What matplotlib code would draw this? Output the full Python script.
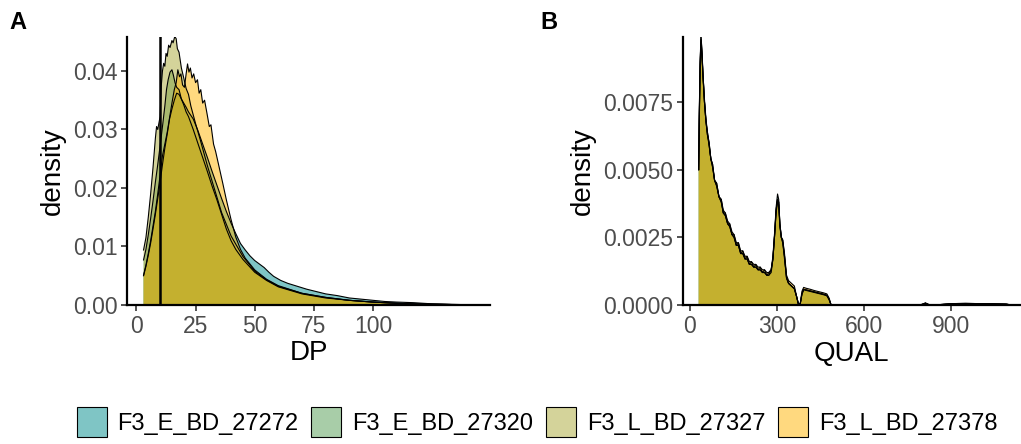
import numpy as np
import matplotlib
matplotlib.use("Agg")
import matplotlib.pyplot as plt
from matplotlib.patches import Patch
from matplotlib.colors import to_rgba

plt.rcParams['font.family'] = ['Liberation Sans', 'DejaVu Sans']

samples = ["F3_E_BD_27272", "F3_E_BD_27320", "F3_L_BD_27327", "F3_L_BD_27378"]
colors = ["#008D8D", "#539D53", "#ABA937", "#FFB500"]

# ---- panel A: DP densities
dp_teal_x = [3, 4, 5, 6, 7, 8, 9, 10, 11, 12, 13, 14, 15, 16, 17, 18, 19, 20, 21, 22, 24, 26, 28, 30,
             32, 34, 36, 38, 40, 42, 44, 46, 48, 50, 52, 54, 56, 58, 61, 64, 68, 72, 76, 80, 85, 90,
             95, 100, 105, 110, 117, 125, 135, 143]
dp_teal_y = [0.0050, 0.0066, 0.0085, 0.0106, 0.0130, 0.0155, 0.0182, 0.0210, 0.0240, 0.0268, 0.0292,
             0.0318, 0.0335, 0.0350, 0.0362, 0.0360, 0.0352, 0.0345, 0.0338, 0.0330, 0.0318, 0.0298,
             0.0275, 0.0252, 0.0228, 0.0205, 0.0182, 0.0160, 0.0140, 0.0122, 0.0105, 0.0094, 0.0084,
             0.0076, 0.0070, 0.0064, 0.0056, 0.0049, 0.0042, 0.0037, 0.0032, 0.0027, 0.0023, 0.0019,
             0.0016, 0.0012, 0.0010, 0.0008, 0.0006, 0.0005, 0.0004, 0.0002, 0.0001, 0.0]

dp_green_x = [3, 4, 5, 6, 7, 8, 9, 10, 11, 12, 12.7, 13.4, 14.2, 15, 15.6, 16.3, 17, 18, 19, 20, 21,
              22, 24, 26, 28, 30, 32, 34, 36, 38, 40, 42, 45, 50, 55, 60, 70, 80, 90, 100, 115, 130, 143]
dp_green_y = [0.0077, 0.0095, 0.0120, 0.0148, 0.0178, 0.0210, 0.0240, 0.0272, 0.0305, 0.0340, 0.0368,
              0.0385, 0.0398, 0.0402, 0.0393, 0.0380, 0.0372, 0.0368, 0.0352, 0.0342, 0.0330, 0.0322,
              0.0300, 0.0276, 0.0252, 0.0228, 0.0203, 0.0180, 0.0155, 0.0130, 0.0110, 0.0095, 0.0078,
              0.0056, 0.0042, 0.0031, 0.0019, 0.0012, 0.0008, 0.0005, 0.0002, 0.0001, 0.0]

dp_khaki_x = [3, 4, 5, 6, 7, 8, 8.5, 9, 10, 10.5, 11, 11.5, 12, 12.5, 13, 13.6, 14.2, 15, 15.5, 16.2,
              16.8, 17.3, 18, 19, 20, 21, 22, 23, 25, 27, 30, 33, 36, 40, 45, 50, 55, 60, 70, 80, 90,
              100, 115, 130, 143]
dp_khaki_y = [0.0094, 0.0115, 0.0150, 0.0190, 0.0235, 0.0285, 0.0305, 0.0300, 0.0322, 0.0375, 0.0400,
              0.0413, 0.0408, 0.0430, 0.0425, 0.0444, 0.0440, 0.0452, 0.0448, 0.0459, 0.0455, 0.0438,
              0.0432, 0.0405, 0.0388, 0.0370, 0.0360, 0.0340, 0.0310, 0.0282, 0.0238, 0.0198, 0.0158,
              0.0118, 0.0083, 0.0058, 0.0043, 0.0032, 0.0020, 0.0013, 0.0008, 0.0005, 0.0002, 0.0001, 0.0]

dp_yellow_x = [3, 4, 5, 6, 7, 8, 9, 10, 11, 12, 13, 14, 15, 16, 16.8, 17.5, 18.2, 18.8, 19.5, 20.3,
               21, 21.6, 22.2, 22.8, 23.5, 24.2, 25, 25.8, 26.5, 27.2, 28, 28.8, 29.8, 30.8, 31.5,
               32.6, 33.5, 35, 36.5, 38, 40, 42, 44, 46, 50, 55, 60, 70, 80, 90, 100, 115, 130, 143]
dp_yellow_y = [0.0051, 0.0068, 0.0088, 0.0110, 0.0135, 0.0160, 0.0190, 0.0222, 0.0255, 0.0275, 0.0295,
               0.0320, 0.0345, 0.0368, 0.0380, 0.0402, 0.0390, 0.0395, 0.0376, 0.0372, 0.0395, 0.0412,
               0.0398, 0.0405, 0.0388, 0.0395, 0.0380, 0.0385, 0.0362, 0.0368, 0.0345, 0.0350, 0.0328,
               0.0305, 0.0308, 0.0275, 0.0262, 0.0235, 0.0208, 0.0180, 0.0146, 0.0116, 0.0095, 0.0080,
               0.0060, 0.0044, 0.0033, 0.0020, 0.0013, 0.0008, 0.0005, 0.0002, 0.0001, 0.0]

# ---- panel B: QUAL densities
qual_x = [30, 32, 35, 38, 41, 45, 50, 55, 60, 66, 72, 78, 85, 92, 100, 108, 115, 122, 130, 137, 145,
          152, 160, 167, 175, 182, 190, 197, 205, 212, 220, 227, 235, 242, 250, 257, 265, 272, 280,
          286, 292, 297, 302, 306, 310, 315, 320, 326, 333, 340, 350, 360, 368, 374, 380, 386, 392,
          400, 415, 430, 445, 460, 472, 480, 486, 495, 600, 780, 800, 812, 822, 835, 870, 900, 950,
          1000, 1050, 1090, 1110]
qual_teal = [0.0050, 0.0068, 0.0088, 0.0099, 0.0094, 0.0085, 0.0075, 0.0068, 0.0064, 0.0060, 0.0054,
             0.0052, 0.0046, 0.0045, 0.0040, 0.0039, 0.0034, 0.0034, 0.0030, 0.0030, 0.0026, 0.0026,
             0.0022, 0.0023, 0.0019, 0.0020, 0.0017, 0.0018, 0.0015, 0.0016, 0.0014, 0.0015, 0.0013,
             0.0014, 0.0012, 0.0013, 0.0011, 0.0012, 0.0013, 0.0018, 0.0027, 0.0036, 0.0041, 0.0039,
             0.0030, 0.0025, 0.0024, 0.0018, 0.0010, 0.0008, 0.0007, 0.0006, 0.0003, 0.00003, 0.00003,
             0.0004, 0.00058, 0.00056, 0.00052, 0.00048, 0.00044, 0.0004, 0.00036, 0.0002, 0.00002,
             0.0, 0.0, 0.0, 0.00002, 0.00008, 0.00002, 0.0, 0.00002, 0.00005, 0.00006, 0.00005,
             0.00004, 0.00003, 0.0]
qual_green = [0.0050, 0.0069, 0.0089, 0.0098, 0.0093, 0.0084, 0.0075, 0.0068, 0.0063, 0.0059, 0.0054,
              0.0051, 0.0046, 0.0044, 0.0040, 0.0038, 0.0034, 0.0033, 0.0030, 0.0029, 0.0026, 0.0025,
              0.0022, 0.0022, 0.0019, 0.0019, 0.0017, 0.0017, 0.0015, 0.0015, 0.0014, 0.0014, 0.0013,
              0.0013, 0.0012, 0.0012, 0.0011, 0.0011, 0.0013, 0.0017, 0.0026, 0.0035, 0.0039, 0.0038,
              0.0030, 0.0025, 0.0023, 0.0018, 0.0010, 0.0008, 0.0007, 0.0006, 0.0003, 0.00003, 0.00003,
              0.0004, 0.00058, 0.00056, 0.00052, 0.00048, 0.00044, 0.0004, 0.00036, 0.0002, 0.00002,
              0.0, 0.0, 0.0, 0.00002, 0.00007, 0.00002, 0.0, 0.00002, 0.00005, 0.00006, 0.00005,
              0.00004, 0.00003, 0.0]
qual_khaki = [0.0050, 0.0070, 0.0090, 0.0099, 0.0095, 0.0085, 0.0076, 0.0069, 0.0064, 0.0059, 0.0054,
              0.0051, 0.0046, 0.0044, 0.0040, 0.0038, 0.0034, 0.0033, 0.0030, 0.0029, 0.0026, 0.0025,
              0.0022, 0.0022, 0.0019, 0.0019, 0.0017, 0.0017, 0.0015, 0.0015, 0.0014, 0.0014, 0.0013,
              0.0013, 0.0012, 0.0012, 0.0011, 0.0011, 0.0012, 0.0017, 0.0026, 0.0034, 0.0038, 0.0037,
              0.0029, 0.0025, 0.0023, 0.0017, 0.0010, 0.0008, 0.0007, 0.0006, 0.0003, 0.00003, 0.00003,
              0.0004, 0.00056, 0.00054, 0.00050, 0.00046, 0.00042, 0.00038, 0.00034, 0.0002, 0.00002,
              0.0, 0.0, 0.0, 0.00002, 0.00006, 0.00002, 0.0, 0.00002, 0.00004, 0.00005, 0.00004,
              0.00004, 0.00003, 0.0]
qual_yellow = [0.0050, 0.0067, 0.0087, 0.0097, 0.0093, 0.0085, 0.0075, 0.0068, 0.0063, 0.0060, 0.0054,
               0.0052, 0.0046, 0.0045, 0.0040, 0.0039, 0.0035, 0.0034, 0.0031, 0.0030, 0.0027, 0.0026,
               0.0023, 0.0023, 0.0020, 0.0020, 0.0018, 0.0018, 0.0016, 0.0016, 0.0015, 0.0015, 0.0014,
               0.0014, 0.0013, 0.0013, 0.0012, 0.0012, 0.0013, 0.0017, 0.0026, 0.0035, 0.0039, 0.0038,
               0.0030, 0.0025, 0.0024, 0.0019, 0.0011, 0.0009, 0.0008, 0.0007, 0.0003, 0.00003, 0.00003,
               0.0005, 0.00065, 0.00062, 0.00058, 0.00053, 0.00049, 0.00045, 0.00041, 0.00025, 0.00002,
               0.0, 0.0, 0.0, 0.00002, 0.00006, 0.00002, 0.0, 0.00002, 0.00004, 0.00005, 0.00004,
               0.00004, 0.00003, 0.0]

dp_series = [(dp_teal_x, dp_teal_y), (dp_green_x, dp_green_y),
             (dp_khaki_x, dp_khaki_y), (dp_yellow_x, dp_yellow_y)]
qual_series = [(qual_x, qual_teal), (qual_x, qual_green),
               (qual_x, qual_khaki), (qual_x, qual_yellow)]

W, H = 1021, 444
fig = plt.figure(figsize=(W / 100, H / 100), dpi=100)
axA = fig.add_axes([127 / W, 1 - 305 / H, (490 - 127) / W, (305 - 37) / H])
axB = fig.add_axes([683 / W, 1 - 305 / H, (1020 - 683) / W, (305 - 37) / H])


def draw_density(ax, series):
    for (x, y), c in zip(series, colors):
        ax.fill_between(x, 0, y, facecolor=to_rgba(c, 0.5), edgecolor='none', linewidth=0)
        ax.plot(x, y, color='black', linewidth=0.8)


def style_axis(ax, xlabel):
    for s in ['top', 'right']:
        ax.spines[s].set_visible(False)
    for s in ['left', 'bottom']:
        ax.spines[s].set_linewidth(1.6)
        ax.spines[s].set_color('black')
    ax.tick_params(axis='both', length=4, width=1.2, color='#333333',
                   labelsize=16.5, labelcolor='#4D4D4D', pad=3)
    ax.set_xlabel(xlabel, fontsize=20, labelpad=2)
    ax.set_ylabel('density', fontsize=20, labelpad=5)


draw_density(axA, dp_series)
axA.axvline(10, color='black', linewidth=1.8)
axA.set_xlim(-4, 149.5)
axA.set_ylim(0, 0.0458)
axA.set_xticks([0, 25, 50, 75, 100])
axA.set_yticks([0.00, 0.01, 0.02, 0.03, 0.04])
axA.set_yticklabels(['0.00', '0.01', '0.02', '0.03', '0.04'])
style_axis(axA, 'DP')

draw_density(axB, qual_series)
axB.set_xlim(-24, 1138)
axB.set_ylim(0, 0.0099)
axB.set_xticks([0, 300, 600, 900])
axB.set_yticks([0.0, 0.0025, 0.0050, 0.0075])
axB.set_yticklabels(['0.0000', '0.0025', '0.0050', '0.0075'])
style_axis(axB, 'QUAL')

fig.text(9 / W, 1 - 29 / H, 'A', fontsize=17, fontweight='bold')
fig.text(540 / W, 1 - 29 / H, 'B', fontsize=17, fontweight='bold')

handles = [Patch(facecolor=to_rgba(c, 0.5), edgecolor='black', linewidth=0.8) for c in colors]
fig.legend(handles, samples, loc='center', bbox_to_anchor=(537 / W, 1 - 422 / H),
           ncol=4, frameon=False, fontsize=17, handlelength=1.27, handleheight=1.6,
           handletextpad=0.45, columnspacing=0.55, borderpad=0)

fig.savefig('out.png', dpi=100)
